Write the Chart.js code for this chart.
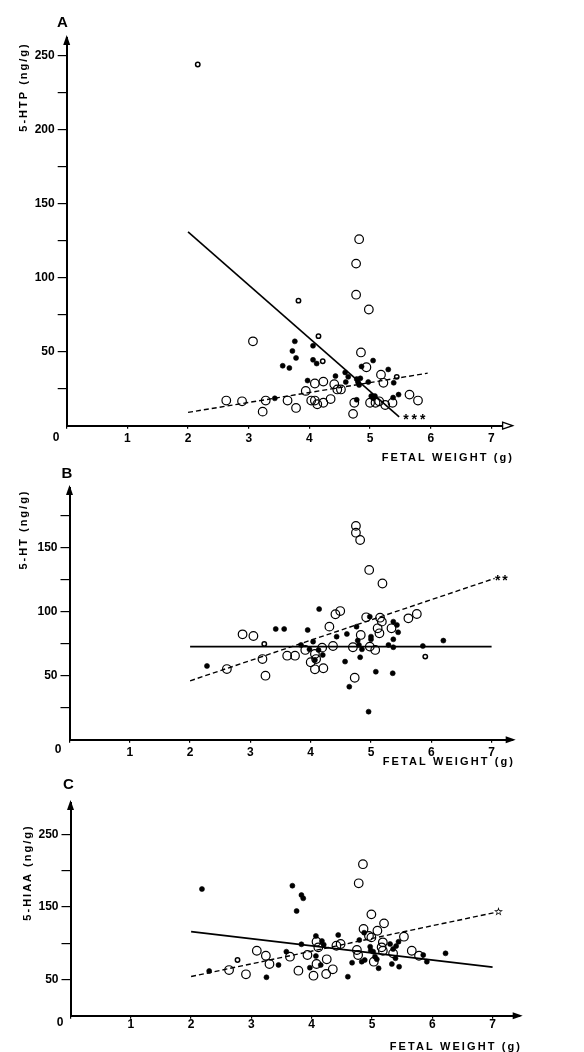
<!DOCTYPE html>
<html><head><meta charset="utf-8">
<script src="https://cdn.jsdelivr.net/npm/chart.js@4/dist/chart.umd.min.js"></script>
<style>
html,body{margin:0;padding:0;background:#fff;}
#wrap{position:relative;width:584px;height:1052px;overflow:hidden;background:#fff;}
canvas{position:absolute;left:0;top:0;}
</style></head><body>
<div id="wrap">
<canvas id="cA" width="584" height="1052"></canvas>
<canvas id="cB" width="584" height="1052"></canvas>
<canvas id="cC" width="584" height="1052"></canvas>
</div>
<script>
// ---------- DATA ----------
const xTickValues = [0, 1, 2, 3, 4, 5, 6, 7];
const xTitle = "FETAL WEIGHT (g)";

// Panel A: 5-HTP
const hptOpen = [[2.63,17],[2.89,16.5],[3.07,57],[3.23,9.5],[3.28,17],[3.64,17],[3.78,12],[3.94,23.5],[4.03,17],[4.09,17],[4.13,14.5],[4.09,28.5],[4.23,29.8],[4.23,15.5],[4.35,18],[4.41,28],[4.46,24.5],[4.52,24.5],[4.72,8],[4.74,15.5],[4.77,88.5],[4.77,109.5],[4.82,126],[4.85,49.5],[4.94,39.5],[4.98,78.5],[5.0,15.5],[5.09,15.5],[5.15,16.5],[5.18,34.5],[5.22,29],[5.25,14],[5.37,15.5],[5.65,21],[5.79,17]];
const hptRing = [[2.16,244],[3.82,84.5],[4.15,60.5],[4.22,43.5],[5.44,33]];
const hptFilled = [[3.43,18.5],[3.56,40.5],[3.67,39],[3.72,50.5],[3.78,45.8],[3.76,57],[3.97,30.5],[4.06,54],[4.06,44.5],[4.12,42],[4.43,33.5],[4.59,36],[4.64,33],[4.6,29.5],[4.78,31.5],[4.8,29.5],[4.82,27.5],[4.84,32],[4.78,17.5],[4.86,40],[4.97,29.5],[5.02,20],[5.05,18.5],[5.08,20],[5.05,44],[5.3,38],[5.39,29],[5.38,19],[5.47,21]];
const hptSolid = [[2,131],[5.48,6]];
const hptDashed = [[2,9],[5.95,35.5]];
const hptStars = [{x:5.59, y:6, text:"*"},{x:5.73, y:6, text:"*"},{x:5.87, y:6, text:"*"}];
const hptYTicksLabelled = [50, 100, 150, 200, 250];

// Panel B: 5-HT
const htOpen = [[2.61,55.2],[2.87,82.3],[3.05,81],[3.2,63],[3.25,50],[3.61,65.6],[3.74,65.6],[3.91,70.1],[4.0,60.5],[4.07,67],[4.09,63],[4.07,55],[4.19,71.9],[4.21,55.8],[4.31,88.3],[4.37,73.2],[4.41,98],[4.49,100.5],[4.7,72.2],[4.73,48.4],[4.75,167],[4.75,161.7],[4.82,156],[4.83,81.8],[4.92,95.6],[4.97,132.6],[4.98,72.7],[5.07,70.1],[5.11,87],[5.14,83.1],[5.15,95.3],[5.18,92.2],[5.19,122],[5.34,87],[5.62,94.8],[5.76,98.2]];
const htRing = [[5.9,64.9],[3.23,74.8]];
const htFilled = [[2.28,57.6],[3.42,86.5],[3.56,86.5],[3.84,74],[3.95,85.7],[3.98,70.6],[4.04,76.6],[4.07,62.3],[4.13,70],[4.14,102],[4.2,66.2],[4.43,80.5],[4.57,61],[4.6,82.6],[4.64,41.4],[4.76,88.3],[4.78,77.4],[4.8,74],[4.82,64.4],[4.85,70.6],[4.96,21.9],[4.98,96.1],[5.0,80.5],[5.0,78.4],[5.08,53.1],[5.29,74],[5.36,51.9],[5.37,92.2],[5.37,78.4],[5.37,72.2],[5.43,89.6],[5.45,83.9],[5.86,73.2],[6.2,77.4]];
const htSolid = [[2,72.7],[7,72.7]];
const htDashed = [[2,46],[7.05,126]];
const htStars = [{x:7.1, y:126, text:"*"},{x:7.22, y:126, text:"*"}];
const htYTicksLabelled = [50, 100, 150];

// Panel C: 5-HIAA
const hiaaOpen = [[2.63,63],[2.91,57.1],[3.09,89.6],[3.24,82.7],[3.3,71.3],[3.64,81.4],[3.78,62.1],[3.93,83.7],[4.03,55.2],[4.08,102],[4.08,71.3],[4.11,94.3],[4.25,77.8],[4.24,57.5],[4.35,64],[4.41,96.5],[4.48,98.9],[4.75,90.6],[4.77,83.7],[4.78,182.6],[4.85,209],[4.86,119.6],[4.95,110],[4.99,108],[4.99,139.8],[5.03,74.5],[5.09,117.2],[5.16,94.3],[5.18,89.6],[5.18,101.2],[5.2,127.4],[5.35,86],[5.53,109],[5.66,89.6],[5.78,82.7]];
const hiaaRing = [[2.77,76.8]];
const hiaaFilled = [[2.18,174.7],[2.3,61.7],[3.25,53],[3.45,70],[3.58,88.3],[3.68,179.3],[3.75,144.4],[3.83,166.4],[3.86,161.9],[3.83,98.5],[3.97,66.2],[4.07,110],[4.07,82.3],[4.15,70],[4.17,103],[4.2,98],[4.44,111.3],[4.6,53.8],[4.67,73.1],[4.79,104.4],[4.83,74.5],[4.87,114.5],[4.88,76.8],[4.97,95.2],[4.98,90],[5.02,88.3],[5.05,81.4],[5.08,78],[5.11,65.4],[5.3,98.9],[5.33,71.3],[5.35,92],[5.39,79.2],[5.4,96],[5.44,102],[5.45,67.6],[5.85,83.7],[5.91,74.5],[6.22,86]];
const hiaaSolid = [[2,116],[7,67]];
const hiaaDashed = [[2,54],[7.05,142.5]];
const hiaaStars = [{x:7.1, y:143, text:"☆"}];
const hiaaYTicksLabelled = [50, 150, 250];

// ---------- RENDERING ----------
const FONT = "'Liberation Sans', Arial, Helvetica, sans-serif";
const pts = a => a.map(p => ({x: p[0], y: p[1]}));

const decor = {
  id: 'decor',
  afterDraw(chart, args, o) {
    const ctx = chart.ctx, ca = chart.chartArea, xs = chart.scales.x, ys = chart.scales.y;
    ctx.save();
    ctx.fillStyle = '#000'; ctx.strokeStyle = '#000';
    // y arrow (up)
    const x0 = ca.left, yb = ca.bottom;
    ctx.beginPath();
    ctx.moveTo(x0, ca.top - 3);
    ctx.lineTo(x0 - 3.5, ca.top + 7);
    ctx.lineTo(x0 + 3.5, ca.top + 7);
    ctx.closePath(); ctx.fill();
    // x arrow (right)
    ctx.beginPath();
    ctx.moveTo(ca.right + 3, yb);
    ctx.lineTo(ca.right - 7, yb - 3.5);
    ctx.lineTo(ca.right - 7, yb + 3.5);
    ctx.closePath();
    if (o.openArrow) { ctx.fillStyle = '#fff'; ctx.fill(); ctx.lineWidth = 1.3; ctx.stroke(); ctx.fillStyle = '#000'; }
    else ctx.fill();
    // panel letter
    ctx.font = "bold 15px " + FONT;
    ctx.textAlign = 'center'; ctx.textBaseline = 'middle';
    ctx.fillText(o.letter, o.letterX, o.letterY);
    // corner zero
    ctx.font = "bold 12px " + FONT;
    ctx.fillText("0", o.zeroX, o.zeroY);
    // stars
    (o.stars || []).forEach(s => {
      const isAst = s.text === '*';
      ctx.font = (isAst ? "bold 14px " : "bold 10px ") + FONT;
      ctx.fillText(s.text, xs.getPixelForValue(s.x), ys.getPixelForValue(s.y) + (isAst ? 3 : 0));
    });
    // x title
    ctx.font = "bold 11px " + FONT;
    try { ctx.letterSpacing = '2.1px'; } catch (e) {}
    ctx.textAlign = 'right';
    ctx.fillText(xTitle, o.xTitleRight + 2, o.xTitleY);
    // y title
    ctx.save();
    ctx.translate(o.yTitleX, o.yTitleY);
    ctx.rotate(-Math.PI / 2);
    ctx.textAlign = 'center';
    try { ctx.letterSpacing = '2px'; } catch (e) {}
    ctx.fillText(o.yTitle, 0, 0);
    ctx.restore();
    ctx.restore();
  }
};

function makeChart(id, P) {
  return new Chart(document.getElementById(id), {
    type: 'scatter',
    data: { datasets: [
      {type: 'line', data: pts(P.solid), borderColor: '#000', borderWidth: 1.6, pointRadius: 0, fill: false, tension: 0},
      {type: 'line', data: pts(P.dashed), borderColor: '#000', borderWidth: 1.4, borderDash: [5, 3], pointRadius: 0, fill: false, tension: 0},
      {data: pts(P.filled), pointRadius: 2.5, pointBackgroundColor: '#000', pointBorderColor: '#000', pointBorderWidth: 0.6},
      {data: pts(P.ring), pointRadius: 2.2, pointBackgroundColor: '#fff', pointBorderColor: '#000', pointBorderWidth: 1.5},
      {data: pts(P.open), pointRadius: 4.3, pointBackgroundColor: 'rgba(0,0,0,0)', pointBorderColor: '#000', pointBorderWidth: 1.2}
    ]},
    options: {
      responsive: false, animation: false, devicePixelRatio: 1,
      layout: {padding: {left: 0, right: 584 - P.right, top: P.top, bottom: 1052 - P.bottom - 30}},
      plugins: {legend: {display: false}, tooltip: {enabled: false}, decor: P.decor},
      scales: {
        x: {
          type: 'linear', min: 0, max: P.xmax,
          afterFit(s) { s.height = 30; },
          afterBuildTicks(s) { s.ticks = xTickValues.map(v => ({value: v})); },
          ticks: {autoSkip: false, maxRotation: 0, padding: P.xpad, color: '#000',
                  font: {family: FONT, size: 12, weight: 'bold'},
                  callback: v => v === 0 ? '' : String(v)},
          grid: {drawOnChartArea: false, drawTicks: true, tickLength: 3, color: '#000', lineWidth: 1.2},
          border: {display: true, color: '#000', width: 2}
        },
        y: {
          type: 'linear', min: 0, max: P.ymax,
          afterFit(s) { s.width = P.left; },
          ticks: {stepSize: P.ystep, includeBounds: false, padding: 3, color: '#000',
                  font: {family: FONT, size: 12, weight: 'bold'},
                  callback: v => P.ylab.includes(v) ? String(v) : ''},
          grid: {drawOnChartArea: false, drawTicks: true, tickLength: 9, lineWidth: 1.2,
                 color: c => (c.tick && c.tick.value === 0) ? 'rgba(0,0,0,0)' : '#000'},
          border: {display: true, color: '#000', width: 2}
        }
      }
    },
    plugins: [decor]
  });
}

makeChart('cA', {
  left: 66.7, right: 509.6, top: 37.9, bottom: 425.7, xmax: 7.3, ymax: 262, ystep: 25, xpad: 3,
  ylab: hptYTicksLabelled, open: hptOpen, ring: hptRing, filled: hptFilled, solid: hptSolid, dashed: hptDashed,
  decor: {letter: 'A', letterX: 62.5, letterY: 22.5, zeroX: 56, zeroY: 438, openArrow: true,
          xTitleRight: 512, xTitleY: 458, yTitle: '5-HTP (ng/g)', yTitleX: 24, yTitleY: 87, stars: hptStars}
});
makeChart('cB', {
  left: 69.5, right: 512.7, top: 488, bottom: 739.7, xmax: 7.35, ymax: 196.6, ystep: 25, xpad: 3,
  ylab: htYTicksLabelled, open: htOpen, ring: htRing, filled: htFilled, solid: htSolid, dashed: htDashed,
  decor: {letter: 'B', letterX: 67, letterY: 473.5, zeroX: 58, zeroY: 750, openArrow: false,
          xTitleRight: 513, xTitleY: 762, yTitle: '5-HT (ng/g)', yTitleX: 24, yTitleY: 529.5, stars: htStars}
});
makeChart('cC', {
  left: 70.5, right: 519.7, top: 803, bottom: 1015.7, xmax: 7.45, ymax: 293.4, ystep: 50, xpad: -1,
  ylab: hiaaYTicksLabelled, open: hiaaOpen, ring: hiaaRing, filled: hiaaFilled, solid: hiaaSolid, dashed: hiaaDashed,
  decor: {letter: 'C', letterX: 68.5, letterY: 784.5, zeroX: 60, zeroY: 1023, openArrow: false,
          xTitleRight: 520, xTitleY: 1046.5, yTitle: '5-HIAA (ng/g)', yTitleX: 28, yTitleY: 872.5, stars: hiaaStars}
});
</script>
</body></html>
